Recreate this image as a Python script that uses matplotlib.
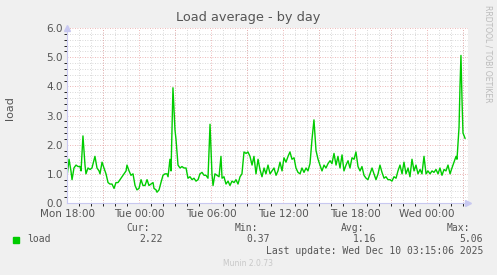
import matplotlib
matplotlib.use("Agg")
import matplotlib.pyplot as plt
from matplotlib.ticker import MultipleLocator

# hours since Mon 18:00 and load values
hours = [0.0, 0.17, 0.33, 0.42, 0.58, 0.75, 0.92, 1.08, 1.17, 1.33, 1.5, 1.58, 1.75, 1.92,
         2.08, 2.33, 2.5, 2.67, 2.75, 2.92, 3.08, 3.25, 3.42, 3.58, 3.75, 3.92, 4.08, 4.25,
         4.42, 4.58, 4.75, 4.92, 5.0, 5.17, 5.33, 5.5, 5.67, 5.83, 6.0, 6.17, 6.33, 6.5,
         6.67, 6.83, 7.0, 7.17, 7.25, 7.42, 7.5, 7.67, 7.83, 8.0, 8.17, 8.33, 8.42, 8.58,
         8.67, 8.83, 9.0, 9.08, 9.25, 9.42, 9.58, 9.75, 9.92, 10.08, 10.25, 10.42, 10.58,
         10.75, 10.92, 11.08, 11.25, 11.42, 11.58, 11.75, 11.92, 12.08, 12.17, 12.33, 12.5,
         12.67, 12.83, 12.92, 13.08, 13.25, 13.42, 13.58, 13.75, 13.92, 14.08, 14.25, 14.42,
         14.58, 14.75, 14.92, 15.08, 15.25, 15.42, 15.58, 15.75, 15.92, 16.08, 16.25, 16.42,
         16.58, 16.75, 16.92, 17.08, 17.25, 17.42, 17.58, 17.75, 17.92, 18.08, 18.25, 18.42,
         18.58, 18.75, 18.92, 19.08, 19.25, 19.42, 19.58, 19.75, 19.92, 20.08, 20.25, 20.42,
         20.58, 20.75, 20.92, 21.08, 21.25, 21.42, 21.58, 21.75, 21.92, 22.08, 22.25, 22.42,
         22.58, 22.75, 22.92, 23.08, 23.25, 23.42, 23.58, 23.75, 23.92, 24.08, 24.25, 24.42,
         24.58, 24.75, 24.92, 25.08, 25.25, 25.42, 25.58, 25.75, 25.92, 26.08, 26.25, 26.42,
         26.58, 26.75, 26.92, 27.08, 27.25, 27.42, 27.58, 27.75, 27.92, 28.08, 28.25, 28.42,
         28.58, 28.75, 28.92, 29.08, 29.25, 29.42, 29.58, 29.75, 29.92, 30.08, 30.25, 30.42,
         30.58, 30.75, 30.92, 31.08, 31.25, 31.42, 31.58, 31.75, 31.92, 32.08, 32.25, 32.42,
         32.5, 32.67, 32.75, 32.83, 32.92, 33.0, 33.17]
load = [0.9, 1.5, 1.1, 0.8, 1.2, 1.3, 1.25, 1.25, 1.1, 2.3, 1.3, 1.0, 1.2, 1.15,
        1.2, 1.6, 1.2, 1.1, 1.0, 1.4, 1.2, 1.0, 0.7, 0.65, 0.65, 0.5, 0.7, 0.7,
        0.8, 0.9, 1.0, 1.1, 1.3, 1.1, 0.95, 1.0, 0.6, 0.45, 0.5, 0.8, 0.6, 0.6,
        0.8, 0.6, 0.65, 0.7, 0.5, 0.45, 0.37, 0.45, 0.7, 0.95, 1.0, 1.0, 0.9, 1.5,
        1.1, 3.95, 2.5, 2.2, 1.3, 1.2, 1.25, 1.2, 1.2, 0.85, 0.9, 0.8, 0.85,
        0.75, 0.8, 1.0, 1.05, 0.95, 0.95, 0.85, 2.7, 1.0, 0.6, 1.0, 0.95,
        0.9, 1.6, 0.85, 0.9, 0.65, 0.75, 0.6, 0.75, 0.7, 0.8, 0.65, 0.9,
        1.0, 1.75, 1.7, 1.75, 1.6, 1.3, 1.6, 1.0, 1.5, 1.15, 0.9, 1.2,
        1.0, 1.3, 1.0, 1.1, 1.2, 0.95, 1.1, 1.4, 1.1, 1.55, 1.4, 1.6,
        1.75, 1.5, 1.55, 1.2, 1.05, 1.0, 1.2, 1.05, 1.2, 1.1, 1.35, 2.2,
        2.85, 1.8, 1.5, 1.3, 1.1, 1.3, 1.2, 1.35, 1.45, 1.35, 1.7, 1.3,
        1.6, 1.2, 1.65, 1.1, 1.3, 1.45, 1.2, 1.55, 1.5, 1.75, 1.25, 1.1,
        1.25, 0.95, 0.85, 0.8, 1.0, 1.2, 1.0, 0.8, 1.0, 1.3, 1.05, 0.85,
        0.9, 0.8, 0.8, 0.75, 0.9, 0.85, 1.1, 1.3, 1.0, 1.4, 1.0, 1.2,
        0.9, 1.5, 1.1, 1.3, 1.0, 1.15, 1.0, 1.6, 1.0, 1.1, 1.0, 1.1,
        1.05, 1.15, 1.0, 1.2, 0.95, 1.15, 1.1, 1.3, 1.0, 1.2, 1.4, 1.6,
        1.5, 2.6, 4.0, 5.06, 3.5, 2.4, 2.22]

tick_hours = [0, 6, 12, 18, 24, 30]
tick_labels = ["Mon 18:00", "Tue 00:00", "Tue 06:00", "Tue 12:00", "Tue 18:00", "Wed 00:00"]
y_ticks = [0, 1, 2, 3, 4, 5, 6]

stats_names = ["Cur:", "Min:", "Avg:", "Max:"]
stats_values = ["2.22", "0.37", "1.16", "5.06"]

W, H = 497, 275
bg = "#F0F0F0"
txt = "#555555"
green = "#00CC00"

fig = plt.figure(figsize=(W / 100, H / 100), dpi=100, facecolor=bg)
ax = fig.add_axes([67 / W, (H - 203) / H, (468 - 67) / W, (203 - 28) / H])
ax.set_facecolor("white")

ax.plot(hours, load, color=green, lw=1.0)

ax.set_xlim(0, (468 - 67) / 12)
ax.set_ylim(0, 6)

ax.set_xticks(tick_hours)
ax.set_xticklabels(tick_labels)
ax.set_yticks(y_ticks)
ax.set_yticklabels([f"{v:.1f}" for v in y_ticks])
ax.tick_params(length=0, labelsize=7.5, labelcolor=txt)
ax.tick_params(axis="x", pad=4)
ax.tick_params(axis="y", pad=3)

# grid: grey every hour / 0.2, red every 3 hours / 1.0
ax.xaxis.set_minor_locator(MultipleLocator(1))
ax.yaxis.set_minor_locator(MultipleLocator(0.2))
ax.grid(which="minor", color="#CCCCCC", lw=0.6, ls=(0, (1, 2)))
for xv in range(3, 34, 3):
    ax.axvline(xv, color="#E8A0A0", lw=0.6, ls=(0, (1, 2)), zorder=1.5)
for yv in range(1, 7):
    ax.axhline(yv, color="#E8A0A0", lw=0.6, ls=(0, (1, 2)), zorder=1.5)
ax.set_axisbelow(True)

for s in ["top", "right"]:
    ax.spines[s].set_visible(False)
for s in ["left", "bottom"]:
    ax.spines[s].set_color("#C8C8F0")
    ax.spines[s].set_linewidth(0.8)

# axis arrows
ax.plot([1.0], [0], marker=">", color="#C8C8F0", ms=5, transform=ax.transAxes, clip_on=False)
ax.plot([0], [1.0], marker="^", color="#C8C8F0", ms=5, transform=ax.transAxes, clip_on=False)

fig.text(248 / W, 1 - 18 / H, "Load average - by day", ha="center", va="center",
         fontsize=9.3, color=txt)
fig.text(10 / W, 1 - 108 / H, "load", rotation=90, ha="center", va="center",
         fontsize=8, color=txt)
fig.text(488 / W, 1 - 5 / H, "RRDTOOL / TOBI OETIKER", rotation=270, ha="center", va="top",
         fontsize=5.5, color="#BBBBBB")

mono = "DejaVu Sans Mono"
fig.patches.append(plt.Rectangle((13 / W, 1 - 243 / H), 6 / W, 6 / H, color=green,
                                 transform=fig.transFigure, figure=fig))
fig.text(27 / W, 1 - 239 / H, "load", ha="left", va="center", family=mono, fontsize=7, color=txt)
name_right = [150, 258, 364, 470]
value_right = [163, 270, 376, 483]
for name, val, nx, vx in zip(stats_names, stats_values, name_right, value_right):
    fig.text(nx / W, 1 - 228 / H, name, ha="right", va="center", family=mono, fontsize=7, color=txt)
    fig.text(vx / W, 1 - 239 / H, val, ha="right", va="center", family=mono, fontsize=7, color=txt)
fig.text(483 / W, 1 - 251 / H, "Last update: Wed Dec 10 03:15:06 2025", ha="right", va="center",
         family=mono, fontsize=7, color=txt)
fig.text(248 / W, 1 - 264 / H, "Munin 2.0.73", ha="center", va="center",
         fontsize=5.5, color="#C8C8C8")

fig.savefig("out.png", dpi=100, facecolor=bg)
